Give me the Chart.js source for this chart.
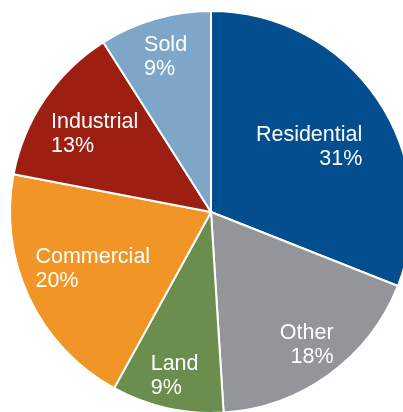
<!DOCTYPE html>
<html>
<head>
<meta charset="utf-8">
<script src="https://cdn.jsdelivr.net/npm/chart.js@4/dist/chart.umd.min.js"></script>
<style>
  html, body { margin: 0; padding: 0; background: #fff; overflow: hidden; }
  #wrap { width: 422px; height: 422px; }
</style>
</head>
<body>
<div id="wrap"><canvas id="pie-chart" width="422" height="422"></canvas></div>
<script>
// Share by category, clockwise from 12 o'clock
var categories = ['Residential', 'Other', 'Land', 'Commercial', 'Industrial', 'Sold'];
var shares = [31, 18, 9, 20, 13, 9];
var sliceColors = ['#034e8f', '#939598', '#6b8e4e', '#f29527', '#9c1f12', '#7ea6c8'];

// where each label sits, as a fraction of the radius along the slice's mid angle
var labelRadius = [0.59, 0.81, 0.83, 0.65, 0.70, 0.81];

// Draws "Name / NN%" inside each slice, left side left-aligned, right side right-aligned
var sliceLabels = {
  id: 'sliceLabels',
  afterDatasetsDraw: function (chart) {
    var ctx = chart.ctx;
    var meta = chart.getDatasetMeta(0);
    ctx.save();
    ctx.font = '21.5px "Liberation Sans", Arial, sans-serif';
    ctx.fillStyle = '#ffffff';
    ctx.textBaseline = 'alphabetic';
    meta.data.forEach(function (arc, i) {
      var p = arc.getProps(['x', 'y', 'startAngle', 'endAngle', 'outerRadius'], true);
      var mid = (p.startAngle + p.endAngle) / 2;
      var r = p.outerRadius * labelRadius[i];
      var cx = p.x + Math.cos(mid) * r;
      var cy = p.y + Math.sin(mid) * r;
      var line1 = chart.data.labels[i];
      var line2 = chart.data.datasets[0].data[i] + '%';
      var w = Math.max(ctx.measureText(line1).width, ctx.measureText(line2).width);
      var left = cx - w / 2;
      var rightSide = Math.cos(mid) > 0;
      var x = rightSide ? left + w : left;
      ctx.textAlign = rightSide ? 'right' : 'left';
      ctx.fillText(line1, x, cy - 4.5);
      ctx.fillText(line2, x, cy + 19.5);
    });
    ctx.restore();
  }
};

var piectx = document.getElementById('pie-chart').getContext('2d');
var pieChart = new Chart(piectx, {
  type: 'pie',
  data: {
    labels: categories,
    datasets: [{
      data: shares,
      backgroundColor: sliceColors,
      borderColor: '#ffffff',
      borderWidth: 2
    }]
  },
  options: {
    responsive: false,
    animation: false,
    layout: {
      padding: { top: 10, left: 9, right: 9, bottom: 8 }
    },
    plugins: {
      legend: { display: false },
      tooltip: { enabled: false }
    }
  },
  plugins: [sliceLabels]
});
</script>
</body>
</html>
